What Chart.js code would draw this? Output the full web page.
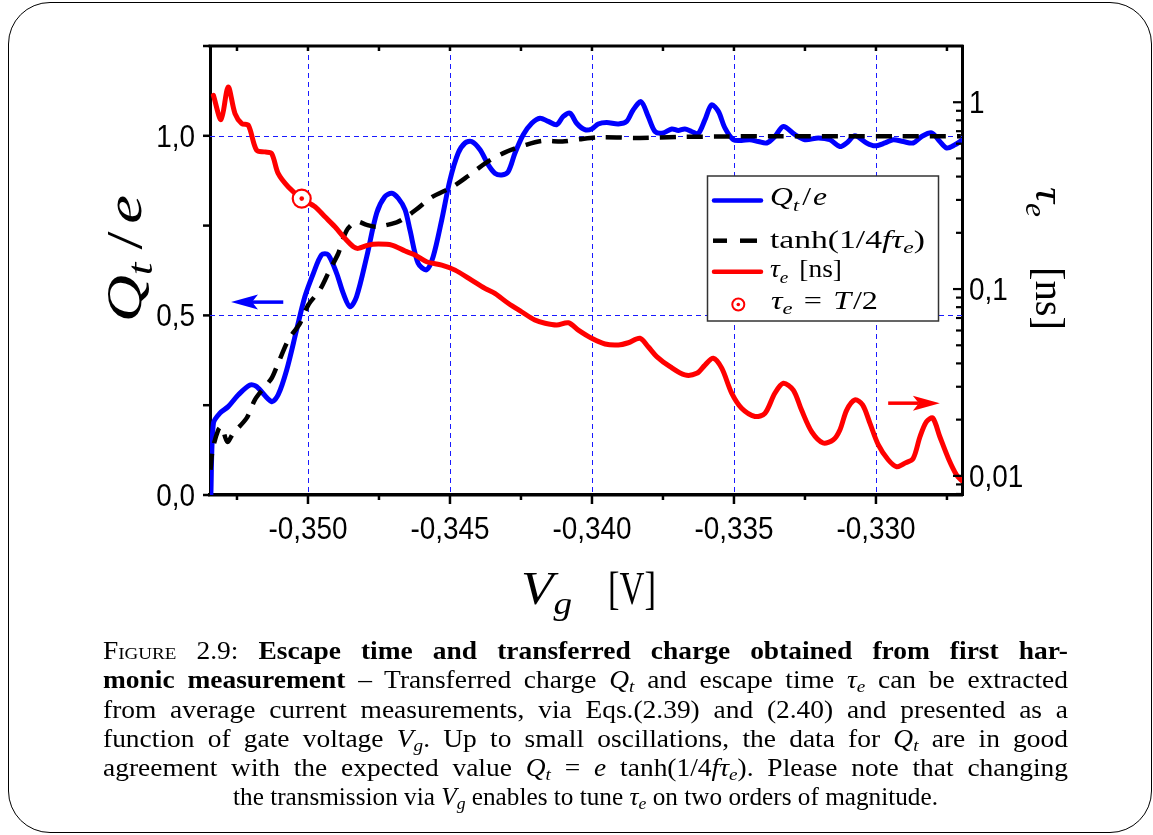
<!DOCTYPE html>
<html><head><meta charset="utf-8">
<script src="https://cdn.jsdelivr.net/npm/chart.js@4.4.0/dist/chart.umd.min.js"></script>
<style>
html,body{margin:0;padding:0;background:#fff;width:1153px;height:835px;overflow:hidden;}
#frame{position:absolute;left:8px;top:2px;width:1144px;height:831px;border:1.6px solid #000;border-radius:42px;box-sizing:border-box;}
#c{position:absolute;left:0;top:0;width:1153px;height:835px;}
#cap{position:absolute;left:103px;top:636px;width:965px;font-family:"Liberation Serif",serif;font-size:24.5px;line-height:29.3px;color:#000;}
#cap div{white-space:nowrap;width:max-content;transform-origin:0 0;position:relative;}
#cap sub{font-size:70%;vertical-align:-0.25em;line-height:0;}
#cap .sc{font-variant:small-caps;}
</style></head>
<body>
<div id="frame"></div>
<canvas id="c" width="1153" height="835"></canvas>
<div id="cap">
<div class="l"><span class="sc">Figure</span> 2.9: <b>Escape time and transferred charge obtained from first har-</b></div>
<div class="l"><b>monic measurement</b> – Transferred charge <i>Q</i><sub><i>t</i></sub> and escape time <i>τ</i><sub><i>e</i></sub> can be extracted</div>
<div class="l">from average current measurements, via Eqs.(2.39) and (2.40) and presented as a</div>
<div class="l">function of gate voltage <i>V</i><sub><i>g</i></sub>. Up to small oscillations, the data for <i>Q</i><sub><i>t</i></sub> are in good</div>
<div class="l">agreement with the expected value <i>Q</i><sub><i>t</i></sub> = <i>e</i> tanh(1/4<i>fτ</i><sub><i>e</i></sub>). Please note that changing</div>
<div class="c">the transmission via <i>V</i><sub><i>g</i></sub> enables to tune <i>τ</i><sub><i>e</i></sub> on two orders of magnitude.</div>
</div>
<script>
// ---- data (gate voltage in V) ----
const qV=[-0.35342,-0.35333,-0.35310,-0.35281,-0.35245,-0.35204,-0.35181,-0.35128,-0.35105,-0.35075,
-0.35040,-0.35011,-0.34981,-0.34952,-0.34929,-0.34899,-0.34876,-0.34852,-0.34829,-0.34793,
-0.34758,-0.34729,-0.34705,-0.34682,-0.34658,-0.34641,-0.34612,-0.34582,-0.34559,-0.34529,
-0.34500,-0.34471,-0.34447,-0.34424,-0.34394,-0.34365,-0.34342,-0.34318,-0.34295,-0.34271,
-0.34242,-0.34212,-0.34183,-0.34154,-0.34124,-0.34101,-0.34077,-0.34054,-0.34025,-0.34001,
-0.33978,-0.33948,-0.33907,-0.33878,-0.33855,-0.33827,-0.33802,-0.33778,-0.33749,-0.33719,
-0.33696,-0.33673,-0.33649,-0.33626,-0.33602,-0.33579,-0.33555,-0.33532,-0.33502,-0.33473,
-0.33444,-0.33414,-0.33385,-0.33356,-0.33326,-0.33285,-0.33250,-0.33203,-0.33162,-0.33127,
-0.33103,-0.33074,-0.33033,-0.33004,-0.32968,-0.32939,-0.32904,-0.32869,-0.32839,-0.32804,
-0.32775,-0.32751,-0.32722,-0.32698];
const qY=[0.00,0.200,0.228,0.246,0.279,0.306,0.302,0.260,0.279,0.348,
0.460,0.552,0.617,0.669,0.669,0.617,0.562,0.524,0.552,0.664,
0.785,0.831,0.840,0.826,0.794,0.738,0.645,0.627,0.664,0.766,
0.877,0.952,0.980,0.984,0.961,0.919,0.896,0.891,0.900,0.952,
1.003,1.035,1.049,1.040,1.031,1.054,1.063,1.035,1.017,1.019,
1.033,1.037,1.033,1.040,1.072,1.095,1.054,1.012,1.008,1.019,
1.015,1.019,1.012,1.006,1.045,1.086,1.068,1.022,0.989,0.987,
0.989,0.984,0.980,0.998,1.026,1.003,0.989,0.994,0.989,0.970,
0.980,1.000,0.980,0.972,0.980,0.989,0.984,0.980,0.998,1.008,
0.984,0.966,0.975,0.987];
const tanhV=[-0.35343,-0.35336,-0.35316,-0.35304,-0.35284,-0.35263,-0.35216,-0.35187,-0.35157,-0.35128,
-0.35110,-0.35069,-0.35028,-0.34999,-0.34958,-0.34923,-0.34893,-0.34864,-0.34829,-0.34793,
-0.34758,-0.34688,-0.34658,-0.34620,-0.34564,-0.34493,-0.34436,-0.34371,-0.34306,-0.34232,
-0.34174,-0.34104,-0.34046,-0.33972,-0.33831,-0.33690,-0.33549,-0.33338,-0.33127,-0.32915,-0.32701];
const tanhY=[0.070,0.125,0.181,0.190,0.148,0.172,0.214,0.265,0.297,0.325,
0.357,0.432,0.478,0.529,0.571,0.627,0.673,0.736,0.761,0.752,
0.747,0.759,0.772,0.794,0.829,0.857,0.888,0.926,0.954,0.975,
0.986,0.984,0.990,0.996,0.994,0.997,0.998,0.999,0.999,0.999,0.999];
const tauV=[-0.35333,-0.35306,-0.35281,-0.35257,-0.35233,-0.35210,-0.35181,-0.35151,-0.35128,-0.35105,
-0.35069,-0.35022,-0.34975,-0.34940,-0.34905,-0.34870,-0.34840,-0.34823,-0.34788,-0.34752,
-0.34705,-0.34658,-0.34623,-0.34582,-0.34529,-0.34482,-0.34424,-0.34377,-0.34342,-0.34295,
-0.34248,-0.34201,-0.34165,-0.34124,-0.34083,-0.34048,-0.34001,-0.33954,-0.33907,-0.33872,
-0.33831,-0.33802,-0.33772,-0.33725,-0.33673,-0.33631,-0.33602,-0.33573,-0.33543,-0.33508,
-0.33473,-0.33426,-0.33391,-0.33356,-0.33326,-0.33291,-0.33262,-0.33226,-0.33186,-0.33150,
-0.33127,-0.33103,-0.33074,-0.33047,-0.33021,-0.32992,-0.32957,-0.32927,-0.32898,-0.32869,
-0.32845,-0.32822,-0.32800,-0.32775,-0.32745,-0.32716,-0.32698];
const tauY=[1.089,0.808,1.207,0.870,0.769,0.753,0.554,0.542,0.532,0.416,
0.352,0.305,0.2755,0.2435,0.2154,0.1867,0.1684,0.1651,0.1719,0.1740,
0.1719,0.1597,0.1520,0.140,0.1343,0.1263,0.1117,0.1009,0.0948,0.0839,
0.0756,0.0683,0.0656,0.0642,0.0660,0.0603,0.0545,0.0508,0.0502,0.0516,
0.0545,0.0491,0.0435,0.0384,0.0347,0.0354,0.0392,0.0426,0.0377,0.0277,
0.0230,0.0208,0.0216,0.0277,0.0313,0.0288,0.0225,0.0172,0.0150,0.0156,
0.0176,0.0225,0.0255,0.0240,0.0191,0.0147,0.0122,0.0112,0.0117,0.0124,
0.0162,0.0195,0.0204,0.0162,0.0124,0.0101,0.00944];
const markV=[-0.35022];
const markTau=[0.305];
// ---- axes ----
const xTicks=[-0.3525,-0.350,-0.3475,-0.345,-0.3425,-0.340,-0.3375,-0.335,-0.3325,-0.330,-0.3275];
const xLabels=['','-0,350','','-0,345','','-0,340','','-0,335','','-0,330',''];
const yTicks=[0,0.25,0.5,0.75,1.0,1.25];
const yLabels=['0,0','','0,5','','1,0',''];
const yGrid=[0.5,1.0];
const y2Major=[0.01,0.1,1];
const y2Labels=['0,01','0,1','1'];
const y2Minor=[0.008,0.009,0.02,0.03,0.04,0.05,0.06,0.07,0.08,0.09,0.2,0.3,0.4,0.5,0.6,0.7,0.8,0.9];
const X_MIN=-0.35345, X_MAX=-0.32697, Y_MIN=0, Y_MAX=1.25, Y2_MIN=0.0079, Y2_MAX=2.0;
// annotation arrows (data units)
const blueArrow={from:-0.35087,to:-0.35271,q:0.537};
const redArrow={from:-0.32957,to:-0.32775,tau:0.0245};

const pts=(xs,ys)=>xs.map((x,i)=>({x:x,y:ys[i]}));
const BLUE='#0000ff', RED='#ff0000', GRID='#1a1aff';
const SERIF='"Liberation Serif", "Times New Roman", serif';
const SANS='"Liberation Sans", Arial, sans-serif';

function fontOf(s,size){const sz=s.sub?size*0.7:size;return (s.b?'bold ':'')+(s.i?'italic ':'')+sz+'px '+SERIF;}
function segW(ctx,s,size){ctx.font=fontOf(s,size);return ctx.measureText(s.t).width+((s.pl||0)+(s.pr||0))*size;}
function drawRich(ctx,segs,x,y,size,target,angle,color){
  let nat=0;for(const s of segs)nat+=segW(ctx,s,size);
  const sx=target?target/nat:1;
  ctx.save();ctx.translate(x,y);ctx.rotate(angle||0);ctx.scale(sx,1);
  ctx.fillStyle=color||'#000';ctx.textBaseline='alphabetic';ctx.textAlign='left';
  let cx=0;
  for(const s of segs){ctx.font=fontOf(s,size);cx+=(s.pl||0)*size;ctx.fillText(s.t,cx,s.sub?size*0.22:0);cx+=ctx.measureText(s.t).width+(s.pr||0)*size;}
  ctx.restore();
}
function sansText(ctx,txt,x,y,align){ctx.save();ctx.font='31px '+SANS;ctx.translate(x,y);ctx.scale(0.9,1);ctx.textAlign=align;ctx.textBaseline='alphabetic';ctx.fillStyle='#000';ctx.fillText(txt,0,0);ctx.restore();}
function seg(ctx,x1,y1,x2,y2){ctx.beginPath();ctx.moveTo(x1,y1);ctx.lineTo(x2,y2);ctx.stroke();}
function arrow(ctx,x1,y,x2,color){
  const dir=Math.sign(x2-x1),L=27,W=7.5,N=6;
  ctx.save();ctx.strokeStyle=color;ctx.fillStyle=color;ctx.lineWidth=3.5;
  seg(ctx,x1,y,x2-dir*(L-N),y);
  ctx.beginPath();ctx.moveTo(x2,y);ctx.lineTo(x2-dir*L,y-W);ctx.lineTo(x2-dir*(L-N),y);ctx.lineTo(x2-dir*L,y+W);ctx.closePath();ctx.fill();
  ctx.restore();
}

const deco={id:'deco',
 beforeDatasetsDraw(chart){
  const ctx=chart.ctx,a=chart.chartArea,x=chart.scales.x,y=chart.scales.y;
  ctx.save();ctx.strokeStyle=GRID;ctx.lineWidth=1;ctx.setLineDash([5,4]);
  xTicks.forEach((v,i)=>{if(!xLabels[i])return;const px=Math.round(x.getPixelForValue(v))+0.5;seg(ctx,px,a.top,px,a.bottom);});
  yGrid.forEach(v=>{const py=Math.round(y.getPixelForValue(v))+0.5;seg(ctx,a.left,py,a.right,py);});
  ctx.restore();
 },
 afterDraw(chart){
  const ctx=chart.ctx,a=chart.chartArea,x=chart.scales.x,y=chart.scales.y,y2=chart.scales.y2;
  ctx.save();
  ctx.strokeStyle='#000';ctx.lineCap='butt';
  ctx.lineWidth=3;seg(ctx,a.left-1.5,a.top,a.right+1.5,a.top);
  ctx.lineWidth=2.5;
  xTicks.forEach((v,i)=>{const px=x.getPixelForValue(v);const L=xLabels[i]?9:5;seg(ctx,px,a.bottom,px,a.bottom+L);seg(ctx,px,a.top,px,a.top+5);});
  yTicks.forEach(v=>{const py=y.getPixelForValue(v);seg(ctx,a.left-7,py,a.left,py);});
  ctx.lineWidth=2.2;
  y2Major.forEach(v=>{const py=y2.getPixelForValue(v);seg(ctx,a.right-9,py,a.right,py);});
  y2Minor.forEach(v=>{const py=y2.getPixelForValue(v);if(py>=a.top&&py<=a.bottom)seg(ctx,a.right-6,py,a.right,py);});
  xTicks.forEach((v,i)=>{if(xLabels[i])sansText(ctx,xLabels[i],x.getPixelForValue(v),a.bottom+43.5,'center');});
  yTicks.forEach((v,i)=>{if(yLabels[i])sansText(ctx,yLabels[i],a.left-15,y.getPixelForValue(v)+11,'right');});
  y2Major.forEach((v,i)=>{sansText(ctx,y2Labels[i],a.right+7,y2.getPixelForValue(v)+11,'left');});
  const mx=x.getPixelForValue(markV[0]),my=y2.getPixelForValue(markTau[0]);
  ctx.fillStyle=RED;ctx.beginPath();ctx.arc(mx,my,2.3,0,Math.PI*2);ctx.fill();
  arrow(ctx,x.getPixelForValue(blueArrow.from),y.getPixelForValue(blueArrow.q),x.getPixelForValue(blueArrow.to),BLUE);
  arrow(ctx,x.getPixelForValue(redArrow.from),y2.getPixelForValue(redArrow.tau),x.getPixelForValue(redArrow.to),RED);
  // legend
  const LX=707.5,LY=176,LW=231,LH=145;
  ctx.fillStyle='#fff';ctx.fillRect(LX,LY,LW,LH);
  ctx.strokeStyle='#333';ctx.lineWidth=1.5;ctx.strokeRect(LX,LY,LW,LH);
  ctx.lineWidth=4.5;ctx.lineCap='round';
  ctx.strokeStyle=BLUE;seg(ctx,714,200.5,761,200.5);
  ctx.strokeStyle=RED;seg(ctx,714,271.7,761,271.7);
  ctx.lineCap='butt';ctx.strokeStyle='#000';seg(ctx,713,240.7,727,240.7);seg(ctx,740,240.7,757,240.7);
  ctx.strokeStyle=RED;ctx.lineWidth=2;ctx.beginPath();ctx.arc(738.3,304.5,6,0,Math.PI*2);ctx.stroke();
  ctx.fillStyle=RED;ctx.beginPath();ctx.arc(738.3,304.5,1.8,0,Math.PI*2);ctx.fill();
  drawRich(ctx,[{t:'Q',i:1},{t:'t',i:1,sub:1},{t:'/',pl:0.1,pr:0.06},{t:'e',i:1}],770,205,25,57);
  drawRich(ctx,[{t:'tanh(1/4'},{t:'fτ',i:1},{t:'e',i:1,sub:1},{t:')'}],770,247.5,25,155);
  drawRich(ctx,[{t:'τ',i:1},{t:'e',i:1,sub:1},{t:' [ns]',pl:0.15}],770,277,25,72);
  drawRich(ctx,[{t:'τ',i:1},{t:'e',i:1,sub:1},{t:'=',pl:0.35,pr:0.35},{t:'T',i:1},{t:'/2',pl:0.05}],771,308.5,25,107);
  // axis titles
  drawRich(ctx,[{t:'Q',i:1},{t:'t',i:1,sub:1},{t:'/',pl:0.2,pr:0.12},{t:'e',i:1}],141,322,50,127,-Math.PI/2);
  drawRich(ctx,[{t:'V',i:1},{t:'g',i:1,sub:1}],521,604,46,51);
  drawRich(ctx,[{t:'[V]'}],608,604,46,48);
  drawRich(ctx,[{t:'τ',i:1},{t:'e',i:1,sub:1}],1035.5,187,42,30,Math.PI/2);
  drawRich(ctx,[{t:'[ns]'}],1035.5,267,42,63,Math.PI/2);
  ctx.restore();
 }
};

new Chart(document.getElementById('c').getContext('2d'),{
 type:'line',
 data:{datasets:[
  {label:'τe = T/2',data:pts(markV,markTau),yAxisID:'y2',showLine:false,pointRadius:9,pointBorderWidth:2.2,pointBorderColor:RED,pointBackgroundColor:'#fff',order:0},
  {label:'τe [ns]',data:pts(tauV,tauY),yAxisID:'y2',borderColor:RED,borderWidth:5,pointRadius:0,tension:0.3,borderJoinStyle:'round',borderCapStyle:'round',order:1},
  {label:'tanh(1/4fτe)',data:pts(tanhV,tanhY),yAxisID:'y',borderColor:'#000',borderWidth:4.5,borderDash:[16,11],borderCapStyle:'butt',pointRadius:0,tension:0.3,order:2},
  {label:'Qt/e',data:pts(qV,qY),yAxisID:'y',borderColor:BLUE,borderWidth:5,pointRadius:0,tension:0.3,borderJoinStyle:'round',borderCapStyle:'round',order:3}
 ]},
 options:{
  responsive:false,animation:false,devicePixelRatio:1,events:[],
  layout:{padding:{top:46,left:0,right:0,bottom:0}},
  plugins:{legend:{display:false},tooltip:{enabled:false}},
  scales:{
   x:{type:'linear',min:X_MIN,max:X_MAX,
      afterBuildTicks:s=>{s.ticks=xTicks.map(v=>({value:v}));},
      afterFit:s=>{s.height=835-495;},
      grid:{display:false,drawTicks:false},
      border:{display:true,color:'#000',width:3.5},
      ticks:{display:false}},
   y:{type:'linear',position:'left',min:Y_MIN,max:Y_MAX,
      afterBuildTicks:s=>{s.ticks=yTicks.map(v=>({value:v}));},
      afterFit:s=>{s.width=210;},
      grid:{display:false,drawTicks:false},
      border:{display:true,color:'#000',width:3},
      ticks:{display:false}},
   y2:{type:'logarithmic',position:'right',min:Y2_MIN,max:Y2_MAX,
      afterFit:s=>{s.width=191;},
      grid:{display:false,drawTicks:false},
      border:{display:true,color:'#000',width:3},
      ticks:{display:false}}
  }
 },
 plugins:[deco]
});
// fit caption lines: glyph widening (Computer Modern is wider) plus word spacing, like the justified original
(function(){
  const S=1.12;
  function fit(el,target){
    const w=el.getBoundingClientRect().width;
    const n=(el.textContent.trim().match(/\s+/g)||[]).length;
    const ws=Math.max(0,(target/S-w)/n);
    el.style.wordSpacing=ws+'px';
    const w2=el.getBoundingClientRect().width;
    el.style.transform='scaleX('+(target/w2)+')';
  }
  document.querySelectorAll('#cap .l').forEach(el=>fit(el,965));
  const last=document.querySelector('#cap .c');const T=705;fit(last,T);last.style.left=((965-T)/2)+'px';
})();
</script>
</body></html>
